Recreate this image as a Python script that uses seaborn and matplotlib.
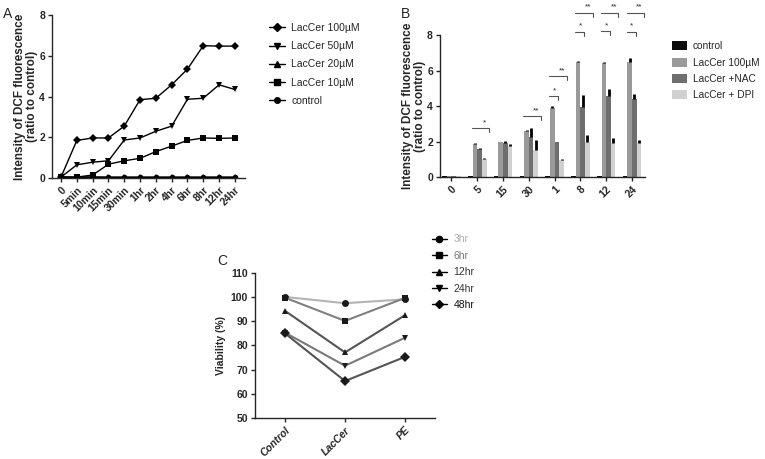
import numpy as np
import pandas as pd
import seaborn as sns
import matplotlib.pyplot as plt
from matplotlib.lines import Line2D
from matplotlib.patches import Patch

# ---- panel A: DCF fluorescence time course
times_a = ['0', '5min', '10min', '15min', '30min', '1hr', '2hr', '4hr', '6hr', '8hr', '12hr', '24hr']
lac100 = [0.05, 1.85, 1.97, 1.97, 2.55, 3.85, 3.92, 4.58, 5.35, 6.5, 6.48, 6.48]
lac50 = [0.05, 0.65, 0.78, 0.85, 1.87, 1.97, 2.3, 2.55, 3.87, 3.92, 4.58, 4.35]
lac20 = [0.05, 0.05, 0.06, 0.05, 0.05, 0.05, 0.05, 0.05, 0.05, 0.05, 0.05, 0.05]
lac10 = [0.05, 0.05, 0.15, 0.68, 0.85, 0.97, 1.3, 1.57, 1.85, 1.97, 1.95, 1.97]
ctrl_a = [0.05, 0.05, 0.05, 0.05, 0.05, 0.05, 0.05, 0.05, 0.05, 0.05, 0.05, 0.05]
series_a = ['LacCer 100µM', 'LacCer 50µM', 'LacCer 20µM', 'LacCer 10µM', 'control']

# ---- panel B: bars with inhibitors
times_b = ['0', '5', '15', '30', '1', '8', '12', '24']
bar_groups = ['control', 'LacCer 100µM', 'LacCer +NAC', 'LacCer + DPI']
b_ctrl = [0.08, 0.08, 0.08, 0.08, 0.08, 0.08, 0.08, 0.08]
b_lac = [0.06, 1.88, 1.97, 2.6, 3.9, 6.52, 6.46, 6.5]
b_nac = [0.06, 1.57, 1.93, 2.25, 1.97, 3.94, 4.56, 4.39]
b_dpi = [0.06, 1.05, 1.75, 1.52, 0.96, 1.99, 1.93, 1.9]
e_ctrl = [0, 0, 0, 0, 0, 0, 0, 0]
e_lac = [0, 0.06, 0.04, 0.08, 0.1, 0.04, 0.04, 0.2]
e_nac = [0, 0.05, 0.1, 0.5, 0.04, 0.68, 0.44, 0.28]
e_dpi = [0, 0.04, 0.1, 0.56, 0.04, 0.38, 0.27, 0.18]

# significance brackets: group index, compared bar, height, label
sig_group = [1, 3, 4, 4, 5, 5, 6, 6, 7, 7]
sig_to = ['dpi', 'dpi', 'dpi', 'nac', 'dpi', 'nac', 'dpi', 'nac', 'dpi', 'nac']
sig_y = [2.76, 3.44, 5.69, 4.56, 9.26, 8.19, 9.26, 8.22, 9.26, 8.2]
sig_txt = ['*', '**', '**', '*', '**', '*', '**', '*', '**', '*']

# ---- panel C: viability
treat_c = ['Control', 'LacCer', 'PE']
v3 = [100, 97.4, 99]
v6 = [99.7, 90.1, 99.6]
v12 = [94.3, 77.1, 92.5]
v24 = [85.3, 71.6, 83.2]
v48 = [85, 65.3, 75.3]
series_c = ['3hr', '6hr', '12hr', '24hr', '48hr']

sns.set_style('ticks')
plt.rcParams['font.family'] = ['Liberation Sans', 'DejaVu Sans']
plt.rcParams['axes.linewidth'] = 1.0

fig = plt.figure(figsize=(7.65, 4.59), dpi=100)

# ---------------- A
dfa = pd.DataFrame({'time': times_a * 5,
                    'value': lac100 + lac50 + lac20 + lac10 + ctrl_a,
                    'series': np.repeat(series_a, len(times_a))})
axA = fig.add_axes([0.068, 0.612, 0.252, 0.355])
mk_a = ['D', 'v', '^', 's', 'o']
sns.lineplot(data=dfa, x='time', y='value', hue='series', style='series',
             markers=mk_a, dashes=False, palette=['black'] * 5, ax=axA,
             legend=False, linewidth=1.0, markersize=4, markeredgewidth=0)
axA.set_xlim(-0.57, 11.63)
axA.set_ylim(0, 8)
axA.set_yticks([0, 2, 4, 6, 8])
axA.set_xlabel('')
axA.set_ylabel('Intensity of DCF fluorescence\n(ratio to control)', fontsize=8.5,
               fontweight='bold', labelpad=1, linespacing=1.0)
axA.tick_params(labelsize=7.5, length=3, width=1, pad=2)
plt.setp(axA.get_xticklabels(), rotation=45, ha='right', rotation_mode='anchor', fontweight='bold')
plt.setp(axA.get_yticklabels(), fontweight='bold')
sns.despine(ax=axA)
hA = [Line2D([], [], color='black', marker=m, markersize=4, lw=1) for m in mk_a]
fig.legend(hA, series_a, loc='upper left', bbox_to_anchor=(0.34, 0.97), frameon=False,
           fontsize=7.5, handlelength=1.5, handletextpad=0.6, labelspacing=0.78)
fig.text(0.004, 0.985, 'A', fontsize=10, va='top')

# ---------------- B
dfb = pd.DataFrame({'time': times_b * 4,
                    'value': b_ctrl + b_lac + b_nac + b_dpi,
                    'group': np.repeat(bar_groups, len(times_b))})
errs = [e_ctrl, e_lac, e_nac, e_dpi]
axB = fig.add_axes([0.575, 0.614, 0.268, 0.309])
sns.barplot(data=dfb, x='time', y='value', hue='group', ax=axB, width=0.72,
            palette=['#0a0a0a', '#9a9a9a', '#6e6e6e', '#d0d0d0'], legend=False,
            errorbar=None, saturation=1, linewidth=0, edgecolor='none')
for cont, err in zip(axB.containers, errs):
    xs = [p.get_x() + p.get_width() / 2 for p in cont]
    hs = [p.get_height() for p in cont]
    axB.errorbar(xs, hs, yerr=[np.zeros(len(err)), err], fmt='none', ecolor='black',
                 elinewidth=2, capsize=0)
bw = axB.containers[1][0].get_width()
off = {'lac': -0.5 * bw, 'nac': 0.5 * bw, 'dpi': 1.5 * bw}
for g, to, y, t in zip(sig_group, sig_to, sig_y, sig_txt):
    x0 = g + off['lac'] - 0.12
    x1 = g + off[to] + (0.2 if to == 'dpi' else 0.05)
    axB.plot([x0, x1, x1], [y, y, y - 0.22], color='#555555', lw=0.8, clip_on=False)
    axB.text(x1 - 0.12 * (x1 - x0) - 0.1, y + 0.12, t, fontsize=6, ha='center', va='bottom')
axB.set_xlim(-0.45, 7.5)
axB.set_ylim(0, 8)
axB.set_yticks([0, 2, 4, 6, 8])
axB.set_xlabel('')
axB.set_ylabel('Intensity of DCF fluorescence\n(ratio to control)', fontsize=8.5,
               fontweight='bold', labelpad=1, linespacing=1.0)
axB.tick_params(labelsize=7.5, length=3, width=1, pad=2)
plt.setp(axB.get_xticklabels(), rotation=45, ha='right', rotation_mode='anchor', fontweight='bold')
plt.setp(axB.get_yticklabels(), fontweight='bold')
sns.despine(ax=axB)
hB = [Patch(facecolor=c, edgecolor='none') for c in ['#0a0a0a', '#9a9a9a', '#6e6e6e', '#d0d0d0']]
fig.legend(hB, bar_groups, loc='upper left', bbox_to_anchor=(0.866, 0.93), frameon=False,
           fontsize=7.3, handlelength=1.5, handleheight=1.0, handletextpad=0.6, labelspacing=0.62)
fig.text(0.524, 0.985, 'B', fontsize=10, va='top')

# ---------------- C
dfc = pd.DataFrame({'treat': treat_c * 5,
                    'viab': v3 + v6 + v12 + v24 + v48,
                    'time': np.repeat(series_c, len(treat_c))})
axC = fig.add_axes([0.333, 0.089, 0.236, 0.317])
mk_c = ['o', 's', '^', 'v', 'D']
line_c = ['#b4b4b4', '#808080', '#555555', '#7a7a7a', '#555555']
sns.lineplot(data=dfc, x='treat', y='viab', hue='time', style='time', markers=mk_c,
             dashes=False, palette=line_c, ax=axC, legend=False, linewidth=1.5,
             markersize=5, markeredgewidth=0)
for ln in axC.lines:
    ln.set_markerfacecolor('#1a1a1a')
    ln.set_markeredgecolor('#1a1a1a')
axC.set_xlim(-0.5, 2.5)
axC.set_ylim(50, 110)
axC.set_yticks(range(50, 111, 10))
axC.set_xlabel('')
axC.set_ylabel('Viability (%)', fontsize=7.5, fontweight='bold', labelpad=3)
axC.tick_params(labelsize=7.5, length=3, width=1, pad=2)
plt.setp(axC.get_xticklabels(), rotation=45, ha='right', rotation_mode='anchor',
         fontweight='bold', fontstyle='italic')
plt.setp(axC.get_yticklabels(), fontweight='bold')
sns.despine(ax=axC)
hC = [Line2D([], [], color='black', marker=m, markersize=4.5, lw=1) for m in mk_c]
legC = fig.legend(hC, series_c, loc='upper left', bbox_to_anchor=(0.552, 0.51), frameon=False,
                  fontsize=7.5, handlelength=1.5, handletextpad=0.6, labelspacing=0.62)
for txt, c in zip(legC.get_texts(), ['#aaaaaa', '#777777', '#333333', '#333333', '#111111']):
    txt.set_color(c)
fig.text(0.284, 0.447, 'C', fontsize=10, va='top')

fig.savefig('out.png', dpi=100)
